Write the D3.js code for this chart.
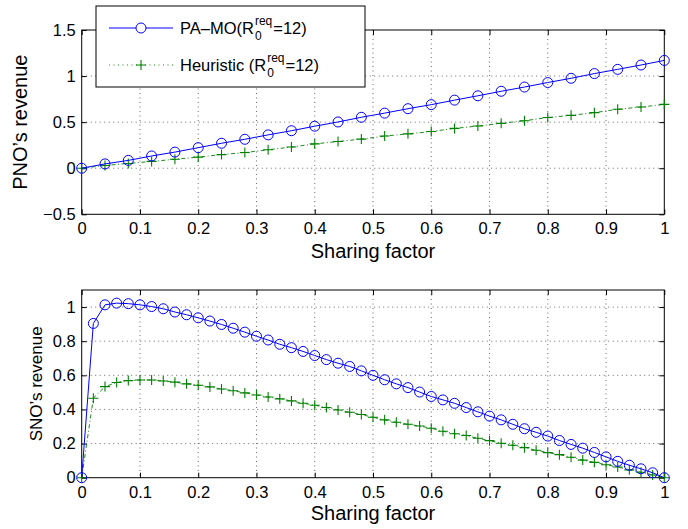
<!DOCTYPE html>
<html><head><meta charset="utf-8">
<script src="https://cdn.jsdelivr.net/npm/d3@7"></script>
<style>
body{margin:0;background:#fff}
text{font-family:"Liberation Sans",Arial,Helvetica,sans-serif;fill:#000}
</style>
</head><body>
<svg id="c" width="688" height="529"></svg>
<script>
// ---------- data ----------
const topX = [0,0.04,0.08,0.12,0.16,0.2,0.24,0.28,0.32,0.36,0.4,0.44,0.48,0.52,0.56,0.6,0.64,0.68,0.72,0.76,0.8,0.84,0.88,0.92,0.96,1];
const topPAMO = [0,0.047,0.085,0.133,0.175,0.223,0.271,0.314,0.362,0.407,0.456,0.502,0.553,0.598,0.646,0.69,0.739,0.786,0.835,0.881,0.93,0.976,1.027,1.073,1.12,1.17];
const topHeur = [0,0.03,0.052,0.074,0.097,0.12,0.148,0.17,0.2,0.23,0.264,0.29,0.316,0.349,0.373,0.398,0.432,0.458,0.487,0.515,0.55,0.574,0.603,0.64,0.664,0.693];

const botX = [0,0.02,0.04,0.06,0.08,0.1,0.12,0.14,0.16,0.18,0.2,0.22,0.24,0.26,0.28,0.3,0.32,0.34,0.36,0.38,0.4,0.42,0.44,0.46,0.48,0.5,0.52,0.54,0.56,0.58,0.6,0.62,0.64,0.66,0.68,0.7,0.72,0.74,0.76,0.78,0.8,0.82,0.84,0.86,0.88,0.9,0.92,0.94,0.96,0.98,1];
const botPAMO = [0,0.904,1.013,1.023,1.02,1.013,1.003,0.99,0.971,0.955,0.937,0.918,0.898,0.876,0.853,0.829,0.807,0.782,0.762,0.74,0.716,0.692,0.671,0.652,0.626,0.6,0.574,0.55,0.528,0.502,0.476,0.456,0.436,0.411,0.386,0.361,0.339,0.313,0.287,0.266,0.244,0.218,0.195,0.173,0.148,0.122,0.096,0.073,0.052,0.029,0];
const botHeur = [0,0.466,0.534,0.558,0.569,0.573,0.573,0.567,0.56,0.55,0.542,0.532,0.52,0.51,0.497,0.485,0.473,0.462,0.45,0.436,0.425,0.411,0.397,0.384,0.37,0.354,0.339,0.325,0.313,0.303,0.29,0.272,0.258,0.247,0.231,0.217,0.202,0.19,0.176,0.161,0.147,0.135,0.12,0.103,0.09,0.076,0.063,0.046,0.032,0.016,0];

const xTicks = [0,0.1,0.2,0.3,0.4,0.5,0.6,0.7,0.8,0.9,1];
const topYTicks = [-0.5,0,0.5,1,1.5];
const botYTicks = [0,0.2,0.4,0.6,0.8,1];
const seriesNames = ["PA\u2013MO(R", "Heuristic (R"];
const seriesSub = "0", seriesSup = "req", seriesTail = "=12)";
const xLabel = "Sharing factor";
const yLabels = ["PNO\u2019s revenue", "SNO\u2019s revenue"];

// ---------- drawing ----------
const svg = d3.select("#c");
const BLUE = "#0000ff", GREEN = "#008000";
const fmt = d => d3.format("~g")(d);
const L = 81.7, R = 664.3;

function panel(o) {
  const x = d3.scaleLinear().domain([0,1]).range([L,R]);
  const y = d3.scaleLinear().domain(o.yDomain).range([o.bottom,o.top]);
  const g = svg.append("g");
  // grid
  g.append("g").selectAll("line").data(xTicks.slice(1,-1)).join("line")
    .attr("x1",d=>x(d)).attr("x2",d=>x(d)).attr("y1",o.top).attr("y2",o.bottom)
    .attr("stroke","#444").attr("stroke-width",0.8).attr("stroke-dasharray","1,3.5");
  g.append("g").selectAll("line").data(o.yTicks.filter(t=>t>o.yDomain[0]&&t<o.yDomain[1])).join("line")
    .attr("x1",L).attr("x2",R).attr("y1",d=>y(d)).attr("y2",d=>y(d))
    .attr("stroke","#444").attr("stroke-width",0.8).attr("stroke-dasharray","1,3.5");
  // axes
  const ax = (gen, tr) => {
    const a = g.append("g").attr("transform",tr).call(gen).attr("font-size",16.5);
    a.select(".domain").remove();
    a.selectAll("line").attr("stroke","#000");
    a.selectAll("text").style("font-size","16.5px").attr("fill","#000");
    return a;
  };
  ax(d3.axisBottom(x).tickValues(xTicks).tickSize(-5).tickPadding(o.xPad).tickFormat(fmt), `translate(0,${o.bottom})`);
  ax(d3.axisTop(x).tickValues(xTicks).tickSize(-5).tickFormat(""), `translate(0,${o.top})`);
  ax(d3.axisLeft(y).tickValues(o.yTicks).tickSize(-5).tickPadding(6).tickFormat(fmt), `translate(${L},0)`);
  ax(d3.axisRight(y).tickValues(o.yTicks).tickSize(-5).tickFormat(""), `translate(${R},0)`);
  // frame
  g.append("rect").attr("x",L).attr("y",o.top).attr("width",R-L).attr("height",o.bottom-o.top)
    .attr("fill","none").attr("stroke","#000").attr("stroke-width",1);
  // series
  const line = d3.line().x(d=>x(d[0])).y(d=>y(d[1]));
  const A = o.xs.map((v,i)=>[v,o.a[i]]), B = o.xs.map((v,i)=>[v,o.b[i]]);
  g.append("path").datum(B).attr("d",line).attr("fill","none").attr("stroke",GREEN)
    .attr("stroke-width",0.9).attr("stroke-dasharray","4,2.5,1,2.5");
  g.append("g").selectAll("path").data(B).join("path")
    .attr("d",d=>`M${x(d[0])-5},${y(d[1])}h10M${x(d[0])},${y(d[1])-5}v10`)
    .attr("stroke",GREEN).attr("stroke-width",1.1).attr("fill","none");
  g.append("path").datum(A).attr("d",line).attr("fill","none").attr("stroke",BLUE).attr("stroke-width",1);
  g.append("g").selectAll("circle").data(A).join("circle")
    .attr("cx",d=>x(d[0])).attr("cy",d=>y(d[1])).attr("r",5)
    .attr("fill","none").attr("stroke",BLUE).attr("stroke-width",1);
  // labels
  svg.append("text").attr("x",(L+R)/2).attr("y",o.xTitleY).attr("text-anchor","middle")
    .style("font-size","20px").text(xLabel);
  svg.append("text").attr("transform",`translate(${o.yTitleX},${(o.top+o.bottom)/2}) rotate(-90)`)
    .attr("text-anchor","middle").style("font-size",o.yTitleSize+"px").text(o.yLabel);
}

panel({yDomain:[-0.5,1.5], top:30, bottom:214.3, yTicks:topYTicks, xs:topX, a:topPAMO, b:topHeur,
       xPad:8, xTitleY:258, yTitleX:27, yTitleSize:20, yLabel:yLabels[0]});
panel({yDomain:[0,1.1], top:290, bottom:477.7, yTicks:botYTicks, xs:botX, a:botPAMO, b:botHeur,
       xPad:9, xTitleY:520, yTitleX:42, yTitleSize:17, yLabel:yLabels[1]});

// ---------- legend ----------
const lg = svg.append("g");
lg.append("rect").attr("x",96).attr("y",6).attr("width",269).attr("height",81)
  .attr("fill","#fff").attr("stroke","#000").attr("stroke-width",1);
const rows = [{y:28, c:BLUE, name:seriesNames[0], dash:null, mk:"circle", w:1},
              {y:65, c:GREEN, name:seriesNames[1], dash:"1,3.5", mk:"plus", w:0.9}];
rows.forEach(r=>{
  lg.append("line").attr("x1",109).attr("x2",173).attr("y1",r.y).attr("y2",r.y)
    .attr("stroke",r.c).attr("stroke-width",r.w).attr("stroke-dasharray",r.dash);
  if (r.mk==="circle") lg.append("circle").attr("cx",141).attr("cy",r.y).attr("r",5)
      .attr("fill","#fff").attr("stroke",r.c);
  else lg.append("path").attr("d",`M136,${r.y}h10M141,${r.y-5}v10`).attr("stroke",r.c).attr("stroke-width",1.1);
  const base = r.y+5.5;
  const t = lg.append("text").attr("x",180).attr("y",base).style("font-size","16.5px").text(r.name);
  const w = t.node().getComputedTextLength();
  const sx = 180 + w + 1;
  const sup = lg.append("text").attr("x",sx).attr("y",base-9).style("font-size","12px").text(seriesSup);
  const sub = lg.append("text").attr("x",sx).attr("y",base+6).style("font-size","12px").text(seriesSub);
  const sw = Math.max(sup.node().getComputedTextLength(), sub.node().getComputedTextLength());
  lg.append("text").attr("x",sx+sw+1).attr("y",base).style("font-size","16.5px").text(seriesTail);
});
</script>
</body></html>
